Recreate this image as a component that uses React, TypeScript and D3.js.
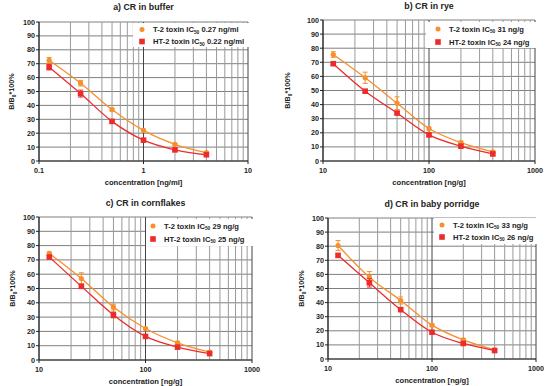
import React from "react";
import * as d3 from "d3";

// concentrations used in each panel
const bufferConc = [0.125, 0.25, 0.5, 1, 2, 4];
const matrixConc = [12.5, 25, 50, 100, 200, 400];

// a) buffer
const aT2 = [72.5, 56, 37, 22, 12, 6];
const aT2Err = [2, 2, 1, 0.8, 0.8, 0.8];
const aHT2 = [67.5, 48.5, 28.5, 15, 8, 4.5];
const aHT2Err = [2, 2.5, 1, 0.8, 0.6, 0.8];

// b) rye
const bT2 = [75.5, 59, 41, 23, 13, 6.5];
const bT2Err = [2, 4, 4.5, 1, 1, 1];
const bHT2 = [69, 49.5, 34, 18.5, 10.5, 5];
const bHT2Err = [0.8, 0.8, 1, 0.8, 0.8, 1];

// c) cornflakes
const cT2 = [74.5, 57, 37, 22, 12, 5.5];
const cT2Err = [1, 4, 2, 0.8, 1, 0.8];
const cHT2 = [72, 51.5, 31.5, 16.5, 9, 4.5];
const cHT2Err = [1, 1.5, 2, 0.8, 0.8, 0.8];

// d) baby porridge
const dT2 = [80.5, 58, 41.5, 24, 13.5, 6.5];
const dT2Err = [3.5, 4, 2.5, 0.8, 1, 0.8];
const dHT2 = [73.5, 54, 35, 19, 11, 6];
const dHT2Err = [1, 3, 1, 0.8, 0.8, 0.8];

const yTicks = [0, 10, 20, 30, 40, 50, 60, 70, 80, 90, 100];

const ORANGE = "#f7902a";
const RED = "#ee2b2b";
const FONT = "Liberation Sans, Arial, sans-serif";

function Panel(props) {
  const p = props;
  const x = d3.scaleLog().domain(p.xDomain).range([p.left, p.right]);
  const y = d3.scaleLinear().domain([0, 100]).range([p.bottom, p.top]);

  const decades = [];
  const minors = [];
  for (let e = Math.log10(p.xDomain[0]); e < Math.log10(p.xDomain[1]); e++) {
    const base = Math.pow(10, e);
    for (let k = 2; k <= 9; k++) minors.push(base * k);
  }
  for (let e = Math.log10(p.xDomain[0]); e <= Math.log10(p.xDomain[1]) + 0.01; e++) {
    decades.push(Math.pow(10, Math.round(e * 100) / 100));
  }

  const line = d3
    .line()
    .x((d) => x(d[0]))
    .y((d) => y(d[1]))
    .curve(d3.curveMonotoneX);

  const series = [
    { vals: p.t2, err: p.t2Err, color: ORANGE, shape: "circle" },
    { vals: p.ht2, err: p.ht2Err, color: RED, shape: "square" },
  ];

  const fmt = (v) => (v < 1 ? String(v) : d3.format("d")(v));

  return (
    <g fontFamily={FONT}>
      <text x={(p.left + p.right) / 2} y={p.titleY} textAnchor="middle" fontSize={8.8} fontWeight="bold" fill="#222">
        {p.title}
      </text>
      {/* grid */}
      {yTicks.map((t) => (
        <line key={"h" + t} x1={p.left} x2={p.right} y1={y(t)} y2={y(t)} stroke="#7f7f7f" strokeWidth={1} />
      ))}
      {minors.map((m) => (
        <line key={"m" + m} x1={x(m)} x2={x(m)} y1={p.top} y2={p.bottom} stroke="#9a9a9a" strokeWidth={1} />
      ))}
      {decades.map((m) => (
        <line key={"d" + m} x1={x(m)} x2={x(m)} y1={p.top} y2={p.bottom} stroke="#444" strokeWidth={1} />
      ))}
      {/* legend */}
      <rect x={p.legX} y={p.legY} width={p.right - p.legX + 1} height={p.legH} fill="#fff" />
      <circle cx={p.legMarker} cy={p.legY + p.legRow1} r={2.5} fill={ORANGE} />
      <rect x={p.legMarker - 2.8} y={p.legY + p.legRow2 - 2.8} width={5.6} height={5.6} fill={RED} />
      <text x={p.legText} y={p.legY + p.legRow1 + 2.6} fontSize={7.6} fontWeight="bold" fill="#222">
        T-2 toxin IC<tspan fontSize={4.8} dy={1.8}>50</tspan>
        <tspan dy={-1.8}> {p.t2Label}</tspan>
      </text>
      <text x={p.legText} y={p.legY + p.legRow2 + 2.6} fontSize={7.6} fontWeight="bold" fill="#222">
        HT-2 toxin IC<tspan fontSize={4.8} dy={1.8}>50</tspan>
        <tspan dy={-1.8}> {p.ht2Label}</tspan>
      </text>
      {/* axes */}
      <line x1={p.left} x2={p.left} y1={p.top} y2={p.bottom} stroke="#222" strokeWidth={1} />
      <line x1={p.left} x2={p.right} y1={p.bottom} y2={p.bottom} stroke="#222" strokeWidth={1} />
      {yTicks.map((t) => (
        <g key={"yt" + t}>
          <line x1={p.left - 3} x2={p.left} y1={y(t)} y2={y(t)} stroke="#222" />
          <text x={p.left - 4} y={y(t) + 2.5} textAnchor="end" fontSize={7.2} fontWeight="bold" fill="#222">
            {t}
          </text>
        </g>
      ))}
      {decades.map((t) => (
        <g key={"xt" + t}>
          <line x1={x(t)} x2={x(t)} y1={p.bottom} y2={p.bottom + 3} stroke="#222" />
          <text x={x(t)} y={p.bottom + 12} textAnchor="middle" fontSize={7.2} fontWeight="bold" fill="#222">
            {fmt(t)}
          </text>
        </g>
      ))}
      <text x={(p.left + p.right) / 2} y={p.bottom + 24} textAnchor="middle" fontSize={7.6} fontWeight="bold" fill="#222">
        {p.xLabel}
      </text>
      <text
        transform={`translate(${p.yLabelX},${(p.top + p.bottom) / 2}) rotate(-90)`}
        textAnchor="middle"
        fontSize={7.2}
        fontWeight="bold"
        fill="#222"
      >
        B/B<tspan fontSize={4.8} dy={1.6}>0</tspan>
        <tspan dy={-1.6}>*100%</tspan>
      </text>
      {/* data */}
      {series.map((s, si) => {
        const pts = p.conc.map((c, i) => [c, s.vals[i]]);
        return (
          <g key={"s" + si}>
            <path d={line(pts)} fill="none" stroke={s.color} strokeWidth={1.3} />
            {pts.map((d, i) => {
              const cx = x(d[0]);
              const e = s.err[i];
              return (
                <g key={i}>
                  <line x1={cx} x2={cx} y1={y(d[1] - e)} y2={y(d[1] + e)} stroke={s.color} strokeWidth={1} />
                  <line x1={cx - 2.5} x2={cx + 2.5} y1={y(d[1] - e)} y2={y(d[1] - e)} stroke={s.color} strokeWidth={1} />
                  <line x1={cx - 2.5} x2={cx + 2.5} y1={y(d[1] + e)} y2={y(d[1] + e)} stroke={s.color} strokeWidth={1} />
                  {s.shape === "circle" ? (
                    <circle cx={cx} cy={y(d[1])} r={2.6} fill={s.color} />
                  ) : (
                    <rect x={cx - 2.8} y={y(d[1]) - 2.8} width={5.6} height={5.6} fill={s.color} />
                  )}
                </g>
              );
            })}
          </g>
        );
      })}
    </g>
  );
}

export default function App() {
  return (
    <svg width={550} height={386} style={{ display: "block", position: "absolute", left: 0, top: 0, background: "#fff" }}>
      <Panel
        title="a) CR in buffer"
        titleY={10}
        xDomain={[0.1, 10]}
        conc={bufferConc}
        left={39}
        right={248}
        top={22}
        bottom={161}
        yLabelX={14}
        xLabel="concentration [ng/ml]"
        t2={aT2}
        t2Err={aT2Err}
        ht2={aHT2}
        ht2Err={aHT2Err}
        t2Label="0.27 ng/ml"
        ht2Label="0.22 ng/ml"
        legX={133}
        legY={23}
        legH={24}
        legRow1={6.5}
        legRow2={18.5}
        legMarker={142}
        legText={153}
      />
      <Panel
        title="b) CR in rye"
        titleY={9}
        xDomain={[10, 1000]}
        conc={matrixConc}
        left={323}
        right={535}
        top={20}
        bottom={161}
        yLabelX={290}
        xLabel="concentration [ng/g]"
        t2={bT2}
        t2Err={bT2Err}
        ht2={bHT2}
        ht2Err={bHT2Err}
        t2Label="31 ng/g"
        ht2Label="24 ng/g"
        legX={426}
        legY={22}
        legH={26}
        legRow1={7}
        legRow2={20}
        legMarker={438}
        legText={449}
      />
      <Panel
        title="c) CR in cornflakes"
        titleY={206}
        xDomain={[10, 1000]}
        conc={matrixConc}
        left={39}
        right={252}
        top={217}
        bottom={360}
        yLabelX={15}
        xLabel="concentration [ng/g]"
        t2={cT2}
        t2Err={cT2Err}
        ht2={cHT2}
        ht2Err={cHT2Err}
        t2Label="29 ng/g"
        ht2Label="25 ng/g"
        legX={146}
        legY={219}
        legH={27}
        legRow1={7}
        legRow2={20}
        legMarker={153}
        legText={164}
      />
      <Panel
        title="d) CR in baby porridge"
        titleY={207}
        xDomain={[10, 1000]}
        conc={matrixConc}
        left={328}
        right={536}
        top={218}
        bottom={359}
        yLabelX={304}
        xLabel="concentration [ng/g]"
        t2={dT2}
        t2Err={dT2Err}
        ht2={dHT2}
        ht2Err={dHT2Err}
        t2Label="33 ng/g"
        ht2Label="26 ng/g"
        legX={434}
        legY={218}
        legH={26}
        legRow1={7}
        legRow2={19}
        legMarker={442}
        legText={453}
      />
    </svg>
  );
}
